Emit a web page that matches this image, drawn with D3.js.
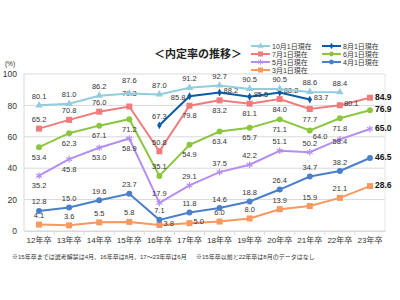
<!DOCTYPE html>
<html lang="ja">
<head>
	<meta charset="utf-8">
	<title>内定率の推移</title>
	<script src="https://cdn.jsdelivr.net/npm/d3@7"></script>
	<style>
		body { margin: 0; background: #fff; }
		text { font-family: "Liberation Sans", "Noto Sans CJK JP", sans-serif; }
	</style>
</head>
<body>
<script>
	// data
	var categories = ["12年卒", "13年卒", "14年卒", "15年卒", "16年卒", "17年卒",
		"18年卒", "19年卒", "20年卒", "21年卒", "22年卒", "23年卒"];
	var oct1 = [80.1, 81.0, 86.2, 87.6, 87.0, 91.2, 92.7, 90.5, 90.5, 88.6, 88.4, null];
	var aug1 = [null, null, null, null, 67.3, 85.8, 88.2, 85.5, 88.2, 83.7, null, null];
	var jul1 = [65.2, 70.8, 76.0, 79.3, 50.8, 79.8, 83.2, 81.1, 84.0, 77.7, 80.1, 84.9];
	var jun1 = [53.4, 62.3, 67.1, 71.2, 35.1, 54.9, 63.4, 65.7, 71.1, 64.0, 71.8, 76.9];
	var may1 = [35.2, 45.8, 53.0, 58.9, 17.9, 29.1, 37.5, 42.2, 51.1, 50.2, 58.4, 65.0];
	var apr1 = [12.8, 15.0, 19.6, 23.7, 7.1, 11.8, 14.6, 18.8, 26.4, 34.7, 38.2, 46.5];
	var mar1 = [4.1, 3.6, 5.5, 5.8, 3.8, 5.0, 6.0, 8.0, 13.9, 15.9, 21.1, 28.6];
	var seriesNames = ["10月1日現在", "8月1日現在", "7月1日現在", "6月1日現在",
		"5月1日現在", "4月1日現在", "3月1日現在"];
	var yTicks = [0, 20, 40, 60, 80, 100];

	// label placement: a = above, A = further above, b = below, s = just below/right,
	// c = on the point, l = left, r = right
	var labelPos = [
		["a", "a", "a", "A", "a", "a", "a", "a", "a", "a", "a", "a"],
		["", "", "", "", "a", "l", "r", "r", "r", "r", "", ""],
		["a", "a", "a", "A", "a", "b", "b", "b", "b", "b", "r", "a"],
		["b", "b", "b", "b", "a", "b", "b", "b", "b", "s", "b", "b"],
		["b", "b", "b", "b", "a", "a", "a", "a", "a", "a", "c", "a"],
		["a", "a", "a", "a", "a", "a", "a", "a", "a", "a", "a", "a"],
		["a", "a", "a", "a", "r", "r", "a", "a", "a", "a", "a", "a"]
	];
	var offsets = { a: [0, -9], A: [0, -13], b: [0, 10], s: [3, 6], c: [0, 2], l: [-4, 1], r: [4, -2] };

	var w = 400, h = 300;
	var plotL = 24, plotR = 385, plotT = 74, plotB = 231;

	var series = [
		{ name: seriesNames[0], values: oct1, color: "#93cddd", symbol: d3.symbolTriangle, size: 24 },
		{ name: seriesNames[1], values: aug1, color: "#0d5aa7", symbol: d3.symbolDiamond, size: 18 },
		{ name: seriesNames[2], values: jul1, color: "#f07b7c", symbol: d3.symbolSquare, size: 36 },
		{ name: seriesNames[3], values: jun1, color: "#8cc63f", symbol: d3.symbolCircle, size: 28 },
		{ name: seriesNames[4], values: may1, color: "#b48ef0", symbol: d3.symbolAsterisk, size: 30, stroke: true },
		{ name: seriesNames[5], values: apr1, color: "#4a7fcb", symbol: d3.symbolCircle, size: 28 },
		{ name: seriesNames[6], values: mar1, color: "#f7985f", symbol: d3.symbolSquare, size: 36 }
	];

	var x = d3.scaleBand().domain(categories).range([plotL, plotR]);
	var y = d3.scaleLinear().domain([0, 100]).range([plotB, plotT]);
	var cx = function (i) { return x(categories[i]) + x.bandwidth() / 2; };
	var last = categories.length - 1;

	var svg = d3.select("body").append("svg")
		.attr("width", w)
		.attr("height", h);

	// gridlines and frame
	svg.append("g").selectAll("line")
		.data(yTicks)
		.enter().append("line")
		.attr("x1", plotL).attr("x2", plotR)
		.attr("y1", function (d) { return y(d); })
		.attr("y2", function (d) { return y(d); })
		.attr("stroke", "#d9d9d9").attr("stroke-width", 1);
	svg.append("line").attr("x1", plotL).attr("x2", plotL).attr("y1", plotT).attr("y2", plotB)
		.attr("stroke", "#d9d9d9");
	svg.append("line").attr("x1", plotR).attr("x2", plotR).attr("y1", plotT).attr("y2", plotB)
		.attr("stroke", "#e6e6e6");

	// x axis
	var xAxis = svg.append("g")
		.attr("transform", "translate(0," + plotB + ")")
		.call(d3.axisBottom(x).tickSize(0).tickPadding(6));
	xAxis.select(".domain").attr("stroke", "#d9d9d9");
	xAxis.selectAll("text").attr("font-size", "8px").attr("fill", "#333");
	xAxis.selectAll(".sep")
		.data(categories.slice(1))
		.enter().append("line")
		.attr("x1", function (d) { return x(d); })
		.attr("x2", function (d) { return x(d); })
		.attr("y1", 0).attr("y2", 4)
		.attr("stroke", "#d9d9d9");

	// y axis
	var yAxis = svg.append("g")
		.attr("transform", "translate(" + plotL + ",0)")
		.call(d3.axisLeft(y).tickValues(yTicks).tickSize(0).tickPadding(7));
	yAxis.select(".domain").remove();
	yAxis.selectAll("text").attr("font-size", "8.5px").attr("fill", "#333");

	svg.append("text").attr("x", 10).attr("y", 66)
		.attr("text-anchor", "middle").attr("font-size", "6.5px").attr("fill", "#333")
		.text("(%)");

	// title
	svg.append("text").attr("x", 198).attr("y", 58)
		.attr("text-anchor", "middle").attr("font-size", "11px").attr("font-weight", "bold")
		.attr("fill", "#222")
		.text("＜内定率の推移＞");

	// lines, markers, labels (bottom series first)
	var line = d3.line()
		.defined(function (d) { return d != null; })
		.x(function (d, i) { return cx(i); })
		.y(function (d) { return y(d); });

	series.slice().reverse().forEach(function (s) {
		var si = series.indexOf(s);
		var g = svg.append("g");
		g.append("path")
			.datum(s.values)
			.attr("fill", "none")
			.attr("stroke", s.color)
			.attr("stroke-width", 2)
			.attr("d", line);

		var pts = s.values.map(function (v, i) { return { v: v, i: i }; })
			.filter(function (d) { return d.v != null; });

		g.selectAll(".m")
			.data(pts)
			.enter().append("path")
			.attr("transform", function (d) { return "translate(" + cx(d.i) + "," + y(d.v) + ")"; })
			.attr("d", d3.symbol().type(s.symbol).size(s.size))
			.attr("fill", s.stroke ? "none" : s.color)
			.attr("stroke", s.stroke ? s.color : "none")
			.attr("stroke-width", 1.2);

		g.selectAll(".lbl")
			.data(pts)
			.enter().append("text")
			.text(function (d) { return d.v.toFixed(1); })
			.attr("font-size", function (d) { return d.i === last ? "8.5px" : "7.5px"; })
			.attr("font-weight", function (d) { return d.i === last ? "bold" : "normal"; })
			.attr("fill", function (d) { return d.i === last ? "#111" : "#333"; })
			.attr("dominant-baseline", "central")
			.attr("text-anchor", function (d) {
				var p = labelPos[si][d.i];
				if (d.i === last) return "start";
				return p === "r" || p === "s" ? "start" : p === "l" ? "end" : "middle";
			})
			.attr("x", function (d) {
				if (d.i === last) return cx(d.i) + 5;
				return cx(d.i) + offsets[labelPos[si][d.i]][0];
			})
			.attr("y", function (d) {
				if (d.i === last) return y(d.v) - 1;
				return y(d.v) + offsets[labelPos[si][d.i]][1];
			});
	});

	// legend
	var legend = svg.append("g");
	var legendItems = legend.selectAll("g")
		.data(series)
		.enter().append("g")
		.attr("transform", function (d, i) {
			var col = i % 2, row = Math.floor(i / 2);
			return "translate(" + (251 + col * 71) + "," + (46 + row * 8) + ")";
		});
	legendItems.append("line")
		.attr("x1", 0).attr("x2", 19).attr("y1", 0).attr("y2", 0)
		.attr("stroke", function (d) { return d.color; })
		.attr("stroke-width", 2);
	legendItems.append("path")
		.attr("transform", "translate(9.5,0)")
		.attr("d", function (d) { return d3.symbol().type(d.symbol).size(d.size * 0.7)(); })
		.attr("fill", function (d) { return d.stroke ? "none" : d.color; })
		.attr("stroke", function (d) { return d.stroke ? d.color : "none"; });
	legendItems.append("text")
		.attr("x", 21).attr("y", 0)
		.attr("dominant-baseline", "central")
		.attr("font-size", "7px").attr("fill", "#333")
		.text(function (d) { return d.name; });

	// notes
	svg.append("text").attr("x", 12).attr("y", 259)
		.attr("font-size", "6px").attr("fill", "#333")
		.text("※15年卒までは選考解禁は4月、16年卒は8月、17～23年卒は6月");
	svg.append("text").attr("x", 196).attr("y", 259)
		.attr("font-size", "6px").attr("fill", "#333")
		.text("※15年卒以前と22年卒は8月のデータはなし");
</script>
</body>
</html>
